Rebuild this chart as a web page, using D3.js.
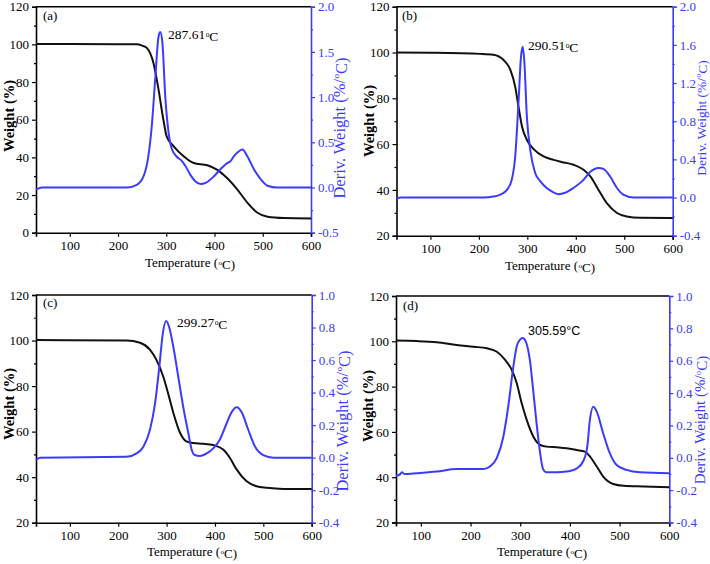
<!DOCTYPE html>
<html><head><meta charset="utf-8">
<script src="https://cdn.jsdelivr.net/npm/d3@7/dist/d3.min.js"></script>
<style>body{margin:0;background:#fff}svg{display:block}
.sf{font-family:"Liberation Serif","Times New Roman",Times,serif}
.ss{font-family:"Liberation Sans",Arial,Helvetica,sans-serif}
</style>
</head><body>
<svg id="c" width="710" height="564"></svg>
<script>
// ---------- data (temperature °C, value) ----------
const panelLabels = ["(a)", "(b)", "(c)", "(d)"];
const peakValues = ["287.61", "290.51", "299.27", "305.59"];
const xTicks = [100, 200, 300, 400, 500, 600];
const leftTicksA = [0, 20, 40, 60, 80, 100, 120];
const leftTicksBCD = [20, 40, 60, 80, 100, 120];
const rightTicksA = [-0.5, 0.0, 0.5, 1.0, 1.5, 2.0];
const rightTicksB = [-0.4, 0.0, 0.4, 0.8, 1.2, 1.6, 2.0];
const rightTicksCD = [-0.4, -0.2, 0.0, 0.2, 0.4, 0.6, 0.8, 1.0];

const weightA = [[30,100.2],[100,100.2],[200,100.1],[239,100],[250,99.3],[260,98],[273.6,90],[284,76],[294,60],[301,51],[315,46],[336,40.6],[357,37],[385,35.8],[405,33.5],[426,29],[447,23],[468,16],[489,10.6],[510,8.5],[544,7.8],[600,7.6]];
const derivA = [[30,-0.02],[36,-0.01],[42,0],[100,0],[218,0],[239,0.03],[253,0.125],[263,0.35],[270,0.68],[277,1.19],[284,1.67],[287.6,1.72],[292,1.6],[298,1.0],[305,0.6],[312,0.42],[322,0.34],[333,0.29],[340,0.235],[350,0.14],[360,0.07],[371,0.04],[381,0.05],[399,0.125],[412,0.2],[426,0.27],[433,0.29],[440,0.345],[448,0.39],[458,0.42],[468,0.345],[482,0.2],[496,0.09],[510,0.02],[530,0],[600,0]];

const weightB = [[30,100],[100,99.9],[203,99.4],[230,99],[251,96.7],[265,92.4],[275,85],[282,76],[289,67.7],[299,61.9],[313,57.8],[333.5,54.6],[354,53.1],[375,52],[395,51],[416,48.8],[430,45.9],[447,40],[464,34.2],[485,29.9],[505,28.4],[533,27.8],[600,27.7]];
const derivB = [[30,-0.016],[38,0],[210,0],[230,0.01],[244,0.03],[258,0.08],[268,0.19],[275,0.43],[282,1.02],[287,1.48],[290.5,1.58],[294,1.41],[299,0.85],[306,0.5],[316,0.26],[327,0.17],[340,0.1],[354,0.055],[364,0.035],[378,0.05],[395,0.1],[416,0.185],[430,0.27],[447,0.31],[457,0.3],[471,0.22],[485,0.1],[498,0.03],[519,0],[600,0]];

const weightC = [[30,100.2],[217,100],[245,99],[265.5,96],[279,91.5],[293,84.2],[303,76.9],[314,68.2],[328,59.4],[341,55.7],[355,55],[376,54.7],[396.5,54.1],[417,52.1],[431,48.4],[445,43.3],[465.5,38.2],[486,36],[507,35.3],[541,34.8],[600,34.8]];
const derivC = [[30,-0.015],[38,0],[217,0.005],[238,0.026],[252,0.067],[265.5,0.17],[276,0.33],[285,0.56],[292,0.76],[299,0.84],[305.5,0.8],[314,0.68],[324,0.5],[334.5,0.31],[345,0.15],[352,0.047],[358,0.016],[369,0.01],[383,0.026],[396.5,0.057],[410,0.11],[424,0.21],[434.5,0.28],[445,0.31],[455,0.28],[469,0.17],[483,0.067],[500,0.016],[521,0],[600,0]];

const weightD = [[50,100.3],[92,100.1],[132,99.6],[172,98.4],[206,97.6],[233,96.9],[253,95.4],[269.6,91.8],[283,87.4],[293,81.5],[303,72.6],[313,65.3],[326.5,57.9],[340,54.3],[353,53.5],[373.5,53.2],[393.6,52.8],[413.7,52],[430,51.3],[440.5,49.1],[454,44.7],[467,40.3],[487,37],[508,36.2],[548,35.9],[600,35.6]];
const derivD = [[50,-0.11],[57,-0.105],[62,-0.09],[67,-0.1],[92,-0.095],[132,-0.085],[172,-0.07],[199,-0.07],[226,-0.07],[239,-0.054],[253,0],[266,0.13],[276,0.32],[286,0.56],[293,0.69],[299.6,0.73],[305,0.74],[311,0.72],[319.6,0.6],[326,0.42],[333,0.21],[340,0.03],[346,-0.07],[353,-0.09],[373.5,-0.09],[393.6,-0.085],[414,-0.065],[427,-0.02],[435,0.07],[440,0.23],[447,0.315],[454,0.285],[467,0.15],[480,0.03],[494,-0.045],[514,-0.075],[541,-0.09],[600,-0.095]];

// ---------- layout ----------
const BLUE = "#3b3bff";

const panels = [
  {x0:36, x1:311, y0:6.7, y1:232.7, xd:[30,600], ld:[0,120], lt:leftTicksA, rd:[-0.5,2.0], rt:rightTicksA, w:weightA, d:derivA,
   lab:[43,20], peak:[168,39], sans:false, ytx:9, yty:116, rtx:339, rty:128, rfs:16.5, xtx:190, xty:267},
  {x0:396.5, x1:672.7, y0:6.7, y1:235.7, xd:[30,600], ld:[20,120], lt:leftTicksBCD, rd:[-0.4,2.0], rt:rightTicksB, w:weightB, d:derivB,
   lab:[402,20], peak:[528,50], sans:false, ytx:369, yty:121, rtx:700.5, rty:118, rfs:13.5, xtx:550, xty:270},
  {x0:36, x1:311.7, y0:295, y1:522.7, xd:[30,600], ld:[20,120], lt:leftTicksBCD, rd:[-0.4,1.0], rt:rightTicksCD, w:weightC, d:derivC,
   lab:[43,307], peak:[177,327], sans:false, ytx:9, yty:404, rtx:342, rty:421, rfs:16.5, xtx:192, xty:556},
  {x0:396, x1:669.3, y0:296, y1:522.5, xd:[50,600], ld:[20,120], lt:leftTicksBCD, rd:[-0.4,1.0], rt:rightTicksCD, w:weightD, d:derivD,
   lab:[403,310], peak:[528,335], sans:true, ytx:368, yty:406, rtx:700, rty:420, rfs:15, xtx:542, xty:556}
];

const svg = d3.select("#c");
const fmt1 = v => (v < 0 ? "-" : "") + Math.abs(v).toFixed(1);

// small raised ring used as degree sign in the original
function degC(sel) {
  sel.append("tspan").text("o").attr("font-size", "0.55em").attr("dy", "-0.28em").attr("dx", "0.5");
  sel.append("tspan").text("C").attr("dy", "0.28em");
}

panels.forEach((p, i) => {
  const g = svg.append("g");
  const x = d3.scaleLinear().domain(p.xd).range([p.x0, p.x1]);
  const yl = d3.scaleLinear().domain(p.ld).range([p.y1, p.y0]);
  const yr = d3.scaleLinear().domain(p.rd).range([p.y1, p.y0]);

  const lMinor = d3.range(p.lt.length - 1).map(k => (p.lt[k] + p.lt[k+1]) / 2);
  const rMinor = d3.range(p.rt.length - 1).map(k => (p.rt[k] + p.rt[k+1]) / 2);

  // left axis
  const gl = g.append("g").attr("transform", `translate(${p.x0},0)`)
    .call(d3.axisLeft(yl).tickValues(p.lt).tickSize(4).tickPadding(3).tickFormat(d3.format("d")));
  gl.append("g").call(d3.axisLeft(yl).tickValues(lMinor).tickSize(2).tickFormat("")).select(".domain").remove();
  gl.selectAll("path.domain").attr("stroke", "#000").attr("stroke-width", 1.6);
  gl.selectAll("line").attr("stroke", "#000").attr("stroke-width", 1.2);
  gl.selectAll("text").attr("class", "sf").style("font-size", "13px").attr("fill", "#000");

  // bottom axis
  const gb = g.append("g").attr("transform", `translate(0,${p.y1})`)
    .call(d3.axisBottom(x).tickValues(xTicks).tickSize(4).tickPadding(4).tickFormat(d3.format("d")));
  gb.selectAll("path.domain").attr("stroke", "#000").attr("stroke-width", 1.6);
  gb.selectAll("line").attr("stroke", "#000").attr("stroke-width", 1.2);
  gb.selectAll("text").attr("class", "sf").style("font-size", "13px").attr("fill", "#000");

  // top border
  g.append("line").attr("x1", p.x0).attr("x2", p.x1).attr("y1", p.y0).attr("y2", p.y0)
    .attr("stroke", "#000").attr("stroke-width", 1.4);

  // right axis
  const gr = g.append("g").attr("transform", `translate(${p.x1},0)`)
    .call(d3.axisRight(yr).tickValues(p.rt).tickSize(4).tickPadding(3).tickFormat(fmt1));
  gr.append("g").call(d3.axisRight(yr).tickValues(rMinor).tickSize(2).tickFormat("")).select(".domain").remove();
  gr.selectAll("path.domain").attr("stroke", BLUE).attr("stroke-width", 1.6);
  gr.selectAll("line").attr("stroke", BLUE).attr("stroke-width", 1.2);
  gr.selectAll("text").attr("class", "sf").style("font-size", "13px").attr("fill", BLUE);

  [gl, gb, gr].forEach(a => a.attr("font-family", null).attr("font-size", null));

  // curves
  const lineW = d3.line().x(d => x(d[0])).y(d => yl(d[1])).curve(d3.curveMonotoneX);
  const lineD = d3.line().x(d => x(d[0])).y(d => yr(d[1])).curve(d3.curveMonotoneX);
  g.append("path").attr("d", lineW(p.w)).attr("fill", "none").attr("stroke", "#111").attr("stroke-width", 2);
  g.append("path").attr("d", lineD(p.d)).attr("fill", "none").attr("stroke", BLUE).attr("stroke-width", 2);

  // texts
  g.append("text").attr("class", "sf").attr("x", p.lab[0]).attr("y", p.lab[1]).text(panelLabels[i])
    .style("font-size", "13px").attr("fill", "#000");
  const pk = g.append("text").attr("class", p.sans ? "ss" : "sf").attr("x", p.peak[0]).attr("y", p.peak[1])
    .style("font-size", p.sans ? "12.5px" : "13.5px").attr("fill", "#000");
  if (p.sans) { pk.text(peakValues[i] + "°C"); }
  else { pk.append("tspan").text(peakValues[i]); degC(pk); }

  g.append("text").attr("class", "sf").attr("transform", `translate(${p.ytx},${p.yty}) rotate(-90)`)
    .attr("text-anchor", "middle").attr("dominant-baseline", "central").text("Weight (%)")
    .style("font-size", "14.5px").attr("font-weight", "bold").attr("fill", "#000");
  const rt = g.append("text").attr("class", "sf").attr("transform", `translate(${p.rtx},${p.rty}) rotate(-90)`)
    .attr("text-anchor", "middle").attr("dominant-baseline", "central")
    .style("font-size", p.rfs + "px").attr("fill", BLUE);
  rt.append("tspan").text("Deriv. Weight (%/"); degC(rt); rt.append("tspan").text(")");
  const xt = g.append("text").attr("class", "sf").attr("x", p.xtx).attr("y", p.xty).attr("text-anchor", "middle")
    .style("font-size", "13px").attr("fill", "#000");
  xt.append("tspan").text("Temperature ("); degC(xt); xt.append("tspan").text(")");
});
</script>
</body></html>
